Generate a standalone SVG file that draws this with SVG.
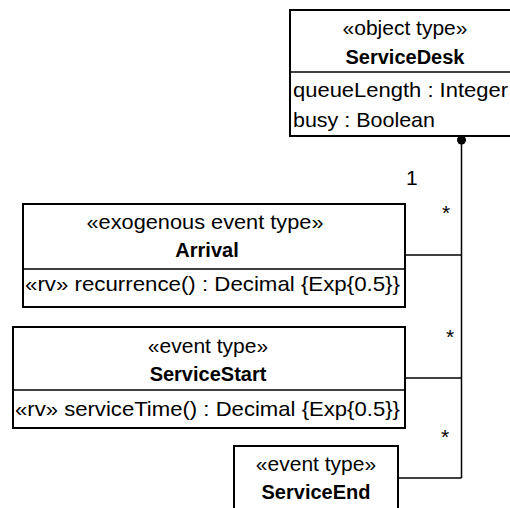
<svg xmlns="http://www.w3.org/2000/svg" width="510" height="508" viewBox="0 0 510 508">
<style>
.box{fill:#fff;stroke:#000;stroke-width:2}
.ln{stroke:#000;stroke-width:1.5;fill:none}
text{font-family:"Liberation Sans",Arial,sans-serif;font-size:21px;fill:#000}
.c{text-anchor:middle}
.b{font-weight:bold;font-size:20px}
.s{font-size:19px}
</style>
<g id="connectors">
<path class="ln" d="M461.5,140 V478"/>
<path class="ln" d="M405,255 H461.5"/>
<path class="ln" d="M405,378 H461.5"/>
<path class="ln" d="M398,478 H461.5"/>
<circle cx="461.5" cy="140" r="4.5" fill="#000"/>
<text x="406" y="185">1</text>
<text x="446" y="220" class="c">*</text>
<text x="450" y="344" class="c">*</text>
<text x="445" y="444" class="c">*</text>
</g>
<g id="ServiceDesk">
<rect class="box" x="290" y="10" width="222" height="126"/>
<line class="ln" x1="290" y1="72" x2="512" y2="72" stroke-width="2"/>
<text x="405" y="35" class="c">«object type»</text>
<text x="405" y="64" class="c b">ServiceDesk</text>
<text x="293" y="97" textLength="215" lengthAdjust="spacingAndGlyphs">queueLength : Integer</text>
<text x="293" y="127" textLength="142" lengthAdjust="spacingAndGlyphs">busy : Boolean</text>
</g>
<g id="Arrival">
<rect class="box" x="23" y="204" width="382" height="103"/>
<line class="ln" x1="23" y1="269" x2="405" y2="269" stroke-width="2"/>
<text x="205" y="229" class="c" textLength="237" lengthAdjust="spacingAndGlyphs">«exogenous event type»</text>
<text x="207" y="257" class="c b">Arrival</text>
<text x="25" y="291" textLength="375" lengthAdjust="spacingAndGlyphs">«rv» recurrence() : Decimal {Exp{0.5}}</text>
</g>
<g id="ServiceStart">
<rect class="box" x="13" y="327" width="392" height="101"/>
<line class="ln" x1="13" y1="390" x2="405" y2="390" stroke-width="2"/>
<text x="208" y="353" class="c">«event type»</text>
<text x="208" y="381" class="c b">ServiceStart</text>
<text x="15" y="416" textLength="385" lengthAdjust="spacingAndGlyphs">«rv» serviceTime() : Decimal {Exp{0.5}}</text>
</g>
<g id="ServiceEnd">
<rect class="box" x="234" y="446" width="164" height="70"/>
<text x="316" y="471" class="c">«event type»</text>
<text x="316" y="499" class="c b">ServiceEnd</text>
</g>
</svg>
